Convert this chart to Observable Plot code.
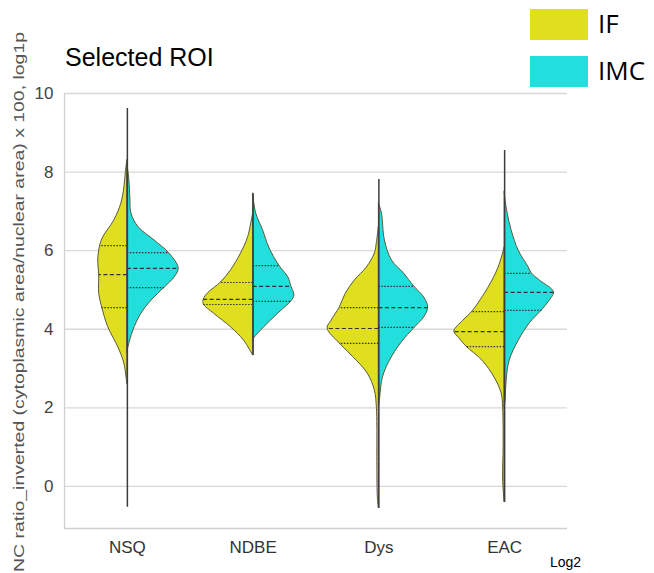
<!DOCTYPE html>
<html>
<head>
<meta charset="utf-8">
<script src="https://cdn.jsdelivr.net/npm/d3@7"></script>
<script src="https://cdn.jsdelivr.net/npm/@observablehq/plot@0.6"></script>
<style>
  html, body { margin: 0; padding: 0; background: white; }
</style>
</head>
<body>
<script>
// ---- data ----
const categories = ["NSQ", "NDBE", "Dys", "EAC"];
const groups = ["IF", "IMC"];
const groupColors = ["#dfdf20", "#22dfdd"];
const yTicks = [0, 2, 4, 6, 8, 10];

// density profiles: [value, relative half-width]
const nsqIF = [[8.3,0],[8.0,.03],[7.6,.06],[7.2,.12],[6.77,.26],[6.34,.48],[6.13,.54],[5.75,.58],[5.39,.56],[4.9,.56],[4.55,.5],[4.05,.38],[3.54,.18],[3.13,.06],[2.8,.02],[2.6,0]];
const nsqIMC = [[8.2,0],[7.79,.04],[7.3,.06],[6.95,.08],[6.6,.22],[6.26,.54],[5.95,.82],[5.55,1.02],[5.32,.94],[5.06,.74],[4.73,.48],[4.4,.28],[3.97,.12],[3.54,.02],[3.4,0]];
const ndbeIF = [[6.95,0],[6.34,.1],[5.93,.24],[5.5,.44],[5.19,.64],[4.91,.9],[4.76,.98],[4.63,.98],[4.4,.78],[4.05,.44],[3.71,.18],[3.33,0]];
const ndbeIMC = [[7.45,0],[6.95,.06],[6.51,.2],[6.08,.32],[5.62,.52],[5.32,.7],[5.09,.76],[4.86,.82],[4.71,.76],[4.4,.5],[4.05,.22],[3.77,.02],[3.72,0]];
const dysIF = [[6.6,0],[6.2,.04],[5.93,.08],[5.57,.24],[5.24,.48],[4.9,.66],[4.55,.78],[4.22,.94],[4.02,1.02],[3.64,.78],[3.28,.5],[2.87,.22],[2.44,.08],[2.01,.04],[1.5,.03],[0.5,.03],[-0.3,.02],[-0.56,0]];
const dysIMC = [[7.2,0],[6.95,.06],[6.26,.12],[5.75,.26],[5.42,.5],[5.09,.7],[4.81,.9],[4.55,.98],[4.3,.9],[4.05,.72],[3.64,.44],[3.2,.22],[2.77,.08],[2.19,.02],[2.0,0]];
const eacIF = [[6.08,0],[5.57,.12],[5.06,.32],[4.45,.64],[4.22,.82],[3.94,1.0],[3.77,.9],[3.56,.76],[3.2,.44],[2.77,.2],[2.37,.06],[2.0,.03],[1.0,.02],[0.2,.03],[-0.41,0]];
const eacIMC = [[7.5,0],[7.36,.01],[6.95,.06],[6.51,.14],[6.0,.28],[5.57,.48],[5.42,.54],[5.24,.7],[4.94,.98],[4.7,.88],[4.48,.74],[4.15,.5],[3.71,.28],[3.2,.1],[2.7,.04],[2.2,.02],[2.0,0]];

// quartiles [q1, median, q3]
const nsqIFq = [4.55, 5.39, 6.13];
const nsqIMCq = [5.06, 5.55, 5.95];
const ndbeIFq = [4.63, 4.76, 5.19];
const ndbeIMCq = [4.71, 5.09, 5.62];
const dysIFq = [3.64, 4.02, 4.55];
const dysIMCq = [4.05, 4.55, 5.09];
const eacIFq = [3.56, 3.94, 4.45];
const eacIMCq = [4.48, 4.94, 5.42];

// extent of each violin's thin line
const lineMin = [-0.53, 3.33, -0.56, -0.41];
const lineMax = [9.62, 7.45, 7.81, 8.55];

// ---- build tables ----
const W = 0.4; // category units per unit of relative density
const violins = [
  ["NSQ","IF",nsqIF,nsqIFq], ["NSQ","IMC",nsqIMC,nsqIMCq],
  ["NDBE","IF",ndbeIF,ndbeIFq], ["NDBE","IMC",ndbeIMC,ndbeIMCq],
  ["Dys","IF",dysIF,dysIFq], ["Dys","IMC",dysIMC,dysIMCq],
  ["EAC","IF",eacIF,eacIFq], ["EAC","IMC",eacIMC,eacIMCq]
].map(([cat, group, prof, q]) => ({cat, group, prof, q, ci: categories.indexOf(cat), side: group === "IF" ? -1 : 1}));

function widthAt(prof, v) {
  for (let i = 0; i < prof.length - 1; i++) {
    const [va, da] = prof[i], [vb, db] = prof[i + 1];
    if (v <= va && v >= vb) return da + (db - da) * (va - v) / (va - vb);
  }
  return 0;
}

const areaRows = violins.flatMap(d => d.prof.map(([v, w]) => ({
  key: d.cat + d.group, group: d.group, v, x1: d.ci, x2: d.ci + d.side * w * W
})));
const quartRows = violins.flatMap(d => d.q.map((v, i) => ({
  kind: i === 1 ? "median" : "quartile", v, x1: d.ci, x2: d.ci + d.side * widthAt(d.prof, v) * W
})));
const lineRows = categories.map((c, i) => ({ci: i, lo: lineMin[i], hi: lineMax[i]}));

const svg = Plot.plot({
  width: 654,
  height: 573,
  marginLeft: 64,
  marginRight: 87,
  marginTop: 93,
  marginBottom: 45,
  style: {fontFamily: "'Liberation Sans', Arial, sans-serif", fontSize: "17px", color: "#444", background: "white", overflow: "visible"},
  x: {domain: [-0.5, 3.5], axis: null},
  y: {domain: [-1.07, 10], axis: null},
  color: {domain: groups, range: groupColors},
  marks: [
    Plot.gridY(yTicks, {stroke: "#d8d8d8", strokeOpacity: 1, strokeWidth: 1.3}),
    Plot.ruleX([-0.5], {stroke: "#d0d0d0", strokeWidth: 1.3}),
    Plot.ruleY([-1.07], {stroke: "#d0d0d0", strokeWidth: 1.3}),
    Plot.areaX(areaRows, {y: "v", x1: "x1", x2: "x2", z: "key", fill: "group", stroke: "#5a5a3a", strokeWidth: 1, curve: "catmull-rom"}),
    Plot.ruleY(quartRows.filter(d => d.kind === "quartile"), {y: "v", x1: "x1", x2: "x2", stroke: "#333", strokeWidth: 1.2, strokeDasharray: "1.5,1.5"}),
    Plot.ruleY(quartRows.filter(d => d.kind === "median"), {y: "v", x1: "x1", x2: "x2", stroke: "#333", strokeWidth: 1.2, strokeDasharray: "4,2.5"}),
    Plot.ruleX(lineRows, {x: "ci", y1: "lo", y2: "hi", stroke: "#3c3c3c", strokeWidth: 1.5}),
    Plot.axisY(yTicks, {tickSize: 0, tickPadding: 11, fontSize: 17, fill: "#444", label: null}),
    Plot.axisX([0, 1, 2, 3], {tickSize: 0, tickPadding: 12, fontSize: 17, fill: "#333", label: null, tickFormat: i => categories[i]})
  ]
});

const s = d3.select(svg);
s.append("text")
  .attr("x", 65).attr("y", 66)
  .attr("text-anchor", "start")
  .attr("font-family", "'Liberation Sans', Arial, sans-serif")
  .attr("font-size", 25).attr("fill", "#000")
  .text("Selected ROI");

s.append("text")
  .attr("transform", "translate(24,302) rotate(-90)")
  .attr("text-anchor", "middle")
  .attr("font-family", "'Liberation Sans', Arial, sans-serif")
  .attr("font-size", 15).attr("fill", "#555")
  .attr("textLength", 540).attr("lengthAdjust", "spacingAndGlyphs")
  .text("NC ratio_inverted (cytoplasmic area/nuclear area) x 100, log1p");

s.append("text")
  .attr("x", 550).attr("y", 567)
  .attr("text-anchor", "start")
  .attr("font-family", "'Liberation Sans', Arial, sans-serif")
  .attr("font-size", 14).attr("fill", "#000")
  .text("Log2");

const legendY = [9, 56];
groups.forEach((g, i) => {
  s.append("rect").attr("x", 530).attr("y", legendY[i]).attr("width", 58).attr("height", 31).attr("fill", groupColors[i]);
  s.append("text").attr("x", 598).attr("y", legendY[i] + 24)
    .attr("text-anchor", "start")
    .attr("font-family", "'Open Sans', sans-serif").attr("font-size", 26).attr("fill", "#000")
    .text(g);
});

document.body.appendChild(svg);
</script>
</body>
</html>
